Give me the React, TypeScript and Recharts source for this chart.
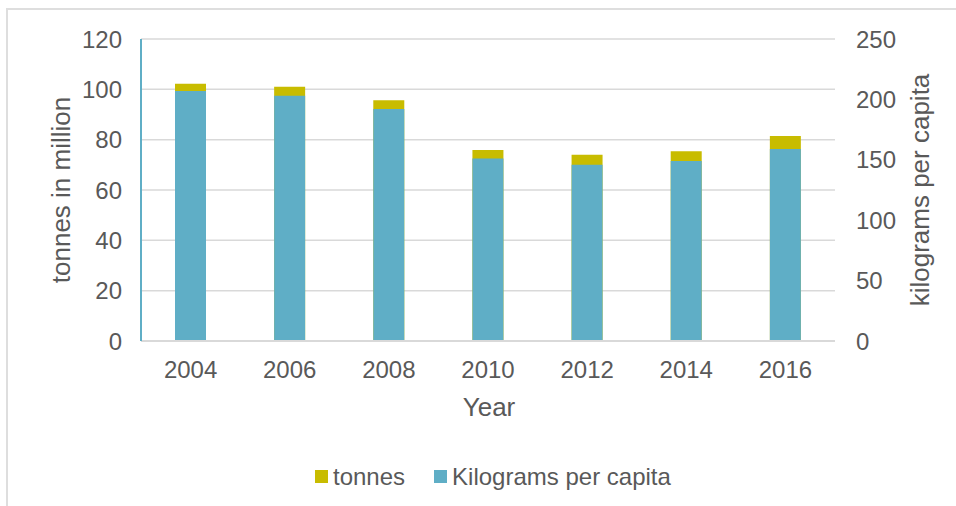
import React from 'react';
import { ComposedChart, Bar, XAxis, YAxis, CartesianGrid, Legend } from 'recharts';

const years = ['2004', '2006', '2008', '2010', '2012', '2014', '2016'];
const tonnes = [102.2, 101.0, 95.7, 75.9, 74.0, 75.4, 81.5];
const kgPerCapita = [207, 203, 192, 151, 146, 149, 159];
const leftTicks = [0, 20, 40, 60, 80, 100, 120];
const rightTicks = [0, 50, 100, 150, 200, 250];

const data = years.map((y, i) => ({ year: y, tonnes: tonnes[i], kg: kgPerCapita[i] }));

const FONT = '"Liberation Sans", Arial, sans-serif';
const TXT = '#595959';
const YELLOW = '#c8bc00';
const BLUE = '#5faec6';

const legendItems = [
  { label: 'tonnes', color: YELLOW },
  { label: 'Kilograms per capita', color: BLUE },
];

const LegendContent = () => (
  <div
    style={{
      width: 956,
      height: 44,
      boxSizing: 'border-box',
      paddingTop: 1,
      paddingLeft: 315,
      display: 'flex',
      alignItems: 'flex-start',
      fontFamily: FONT,
      fontSize: 24,
      color: TXT,
    }}
  >
    {legendItems.map((it, i) => (
      <div key={it.label} style={{ display: 'flex', alignItems: 'center', height: 27, marginRight: i === 0 ? 29 : 0 }}>
        <span style={{ display: 'inline-block', width: 13, height: 13, background: it.color, marginRight: 5 }} />
        <span style={{ lineHeight: '27px' }}>{it.label}</span>
      </div>
    ))}
  </div>
);

export default function App() {
  return (
    <div style={{ position: 'absolute', left: 0, top: 0, width: 956, height: 506, background: '#fff', overflow: 'hidden' }}>
      <div
        style={{
          position: 'absolute',
          left: 6,
          top: 8,
          width: 960,
          height: 520,
          borderLeft: '2px solid #dedede',
          borderTop: '2px solid #dedede',
        }}
      />
      <div style={{ position: 'absolute', left: 0, top: 0 }}>
        <ComposedChart
          width={956}
          height={506}
          data={data}
          margin={{ top: 39, right: 0, bottom: 0, left: 0 }}
          barSize={31}
          barGap={-31}
        >
          <CartesianGrid yAxisId="left" vertical={false} stroke="#d9d9d9" strokeWidth={1.5} />
          <XAxis
            dataKey="year"
            height={121}
            tickLine={false}
            tickSize={0}
            tickMargin={20}
            axisLine={{ stroke: '#d9d9d9', strokeWidth: 2 }}
            tick={{ fill: TXT, fontSize: 24, fontFamily: FONT }}
            label={{
              content: (props: any) => {
                const vb = props.viewBox;
                return (
                  <text x={vb.x + vb.width / 2 + 1} y={416} textAnchor="middle" fill={TXT} fontSize={26} fontFamily={FONT}>
                    Year
                  </text>
                );
              },
            }}
          />
          <YAxis
            yAxisId="left"
            orientation="left"
            width={141}
            domain={[0, 120]}
            ticks={leftTicks}
            interval={0}
            tickLine={false}
            tickSize={0}
            tickMargin={19}
            axisLine={{ stroke: BLUE, strokeWidth: 2 }}
            tick={{ fill: TXT, fontSize: 24, fontFamily: FONT }}
            label={{
              content: (props: any) => {
                const vb = props.viewBox;
                const cx = 70;
                const cy = vb.y + vb.height / 2;
                return (
                  <text x={cx} y={cy} transform={`rotate(-90 ${cx} ${cy})`} textAnchor="middle" fill={TXT} fontSize={26} fontFamily={FONT}>
                    tonnes in million
                  </text>
                );
              },
            }}
          />
          <YAxis
            yAxisId="right"
            orientation="right"
            width={121}
            domain={[0, 250]}
            ticks={rightTicks}
            interval={0}
            tickLine={false}
            tickSize={0}
            tickMargin={21}
            axisLine={false}
            tick={{ fill: TXT, fontSize: 24, fontFamily: FONT }}
            label={{
              content: (props: any) => {
                const vb = props.viewBox;
                const cx = vb.x + 94;
                const cy = vb.y + vb.height / 2;
                return (
                  <text x={cx} y={cy} transform={`rotate(-90 ${cx} ${cy})`} textAnchor="middle" fill={TXT} fontSize={26} fontFamily={FONT}>
                    kilograms per capita
                  </text>
                );
              },
            }}
          />
          <Legend verticalAlign="bottom" content={<LegendContent />} />
          <Bar yAxisId="left" dataKey="tonnes" name="tonnes" fill={YELLOW} isAnimationActive={false} />
          <Bar yAxisId="right" dataKey="kg" name="Kilograms per capita" fill={BLUE} isAnimationActive={false} />
        </ComposedChart>
      </div>
    </div>
  );
}
